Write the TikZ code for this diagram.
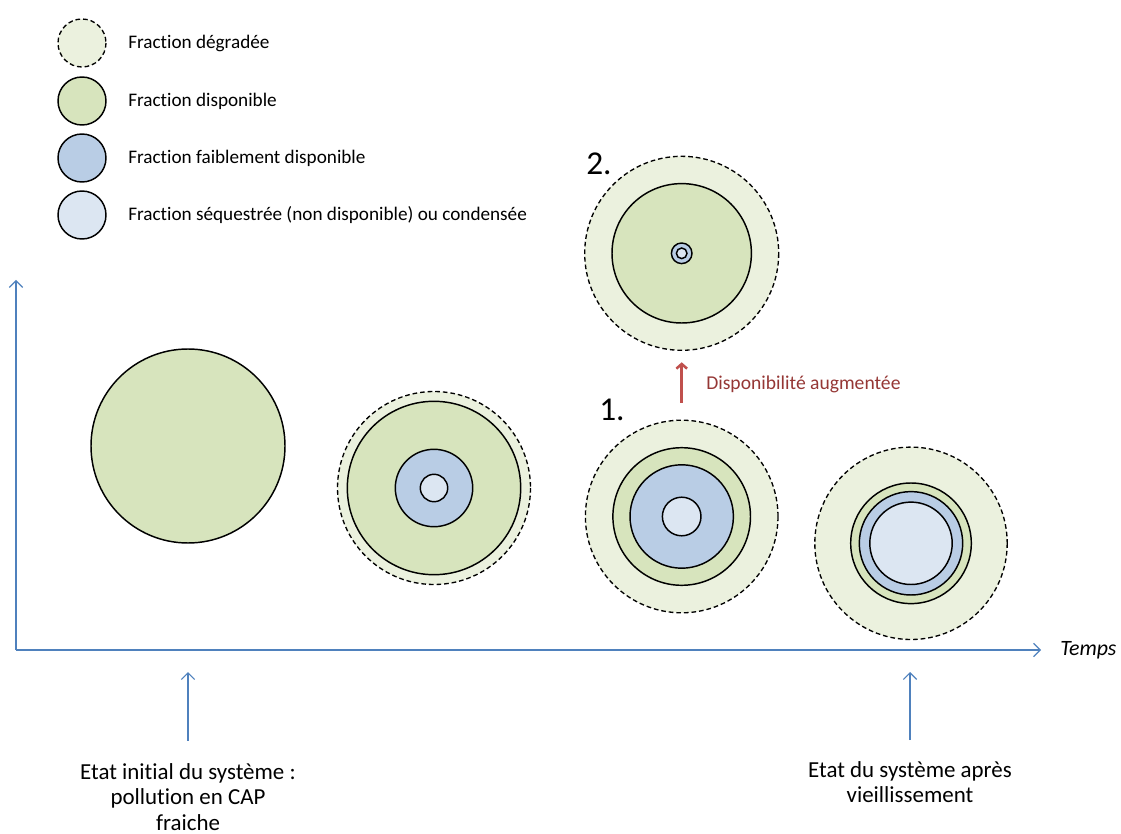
\documentclass[tikz,border=0pt]{standalone}
\usepackage{fontspec}
\setmainfont{Carlito}[Ligatures=NoCommon]
\usetikzlibrary{arrows.meta}

\definecolor{degradfill}{RGB}{235,241,222}
\definecolor{dispofill}{RGB}{215,228,189}
\definecolor{faiblefill}{RGB}{185,205,229}
\definecolor{seqfill}{RGB}{220,230,242}
\definecolor{axisblue}{RGB}{79,129,189}
\definecolor{augred}{RGB}{192,80,77}
\definecolor{augtext}{RGB}{149,55,53}

\tikzset{
  ring/.style={draw=black, line width=1.1pt},
  dashring/.style={draw=black, line width=1pt, dash pattern=on 3.5pt off 2.2pt, fill=degradfill},
  axisline/.style={draw=axisblue, line width=0.9pt, -{Straight Barb[length=5pt,width=10pt]}},
  legendtext/.style={anchor=west, inner sep=0.75pt, font=\fontsize{14.4}{16}\selectfont},
  statetext/.style={anchor=north, inner sep=0.75pt, align=center, font=\fontsize{17.2}{19.2}\selectfont},
  steplabel/.style={anchor=west, inner sep=0.75pt, font=\fontsize{25}{27}\selectfont}
}

\begin{document}
\begin{tikzpicture}[x=0.75pt,y=0.75pt,yscale=-1,xscale=1]
\useasboundingbox (0,0) rectangle (1121,834);

% Legend
\draw [dashring] (82,43) circle (24);
\draw [ring, fill=dispofill] (82,101) circle (24);
\draw [ring, fill=faiblefill] (82,158) circle (24);
\draw [ring, fill=seqfill] (82,215) circle (24);
% Text Node
\node [legendtext] (legdeg) at (127,43) {Fraction dégradée};
% Text Node
\node [legendtext] (legdispo) at (127,101) {Fraction disponible};
% Text Node
\node [legendtext] (legfaible) at (127,158) {Fraction faiblement disponible};
% Text Node
\node [legendtext] (legseq) at (127,215) {Fraction séquestrée (non disponible) ou condensée};

% Axes
\coordinate (origin) at (16,650);
\coordinate (ytop) at (16,280);
\coordinate (xend) at (1041,650);
\draw [axisline] (origin) -- (ytop);
\draw [axisline] (origin) -- (xend);
% Text Node
\node [anchor=west, inner sep=0.75pt, font=\fontsize{16.4}{18}\selectfont\itshape] (temps) at (1059,650) {Temps};

% Etat initial
\draw [ring, fill=dispofill] (188,446) circle (97);

% Etat intermediaire
\draw [dashring] (434,488) circle (96.5);
\draw [ring, fill=dispofill] (434,488) circle (86.7);
\draw [ring, fill=faiblefill] (434,488) circle (38.7);
\draw [ring, fill=seqfill] (434,488) circle (13.7);

% Etat 1.
\draw [dashring] (681.7,516.5) circle (96.3);
\draw [ring, fill=dispofill] (681.7,516.5) circle (68.8);
\draw [ring, fill=faiblefill] (681.7,516.5) circle (51.7);
\draw [ring, fill=seqfill] (681.7,516.5) circle (19.3);
\coordinate (onetop) at (681.7,420.2);
% Text Node
\node [steplabel] (one) at (598,410) {1.};

% Etat 2.
\draw [dashring] (681.7,253.3) circle (97);
\draw [ring, fill=dispofill] (681.7,253.3) circle (69.7);
\draw [ring, fill=faiblefill] (681.7,253.3) circle (10.3);
\draw [ring, fill=seqfill] (681.7,253.3) circle (5.3);
\coordinate (twobot) at (681.7,350.3);
% Text Node
\node [steplabel] (two) at (585,164) {2.};

% Disponibilite augmentee
\draw [draw=augred, line width=1.9pt, -{Straight Barb[length=3.5pt,width=8pt]}, shorten <=13pt, shorten >=9pt] (onetop) -- (twobot);
% Text Node
\node [anchor=west, inner sep=0.75pt, text=augtext, font=\fontsize{14.7}{16}\selectfont] (augm) at (705,384) {Disponibilité augmentée};

% Etat vieilli
\draw [dashring] (911,543.3) circle (96.2);
\draw [ring, fill=dispofill] (911,543.3) circle (60.3);
\draw [ring, fill=faiblefill] (911,543.3) circle (51.7);
\draw [ring, fill=seqfill] (911,543.3) circle (41.2);

% Etats du systeme
\coordinate (inittip) at (188,672);
\coordinate (agedtip) at (910,672);
% Text Node
\node [statetext] (initstate) at (188,762) {Etat initial du système :\\pollution en CAP\\fraiche};
% Text Node
\node [statetext] (agedstate) at (910,760) {Etat du système après\\vieillissement};
\draw [axisline, shorten <=16pt] (initstate.north) -- (inittip);
\draw [axisline, shorten <=15pt] (agedstate.north) -- (agedtip);

\end{tikzpicture}
\end{document}
